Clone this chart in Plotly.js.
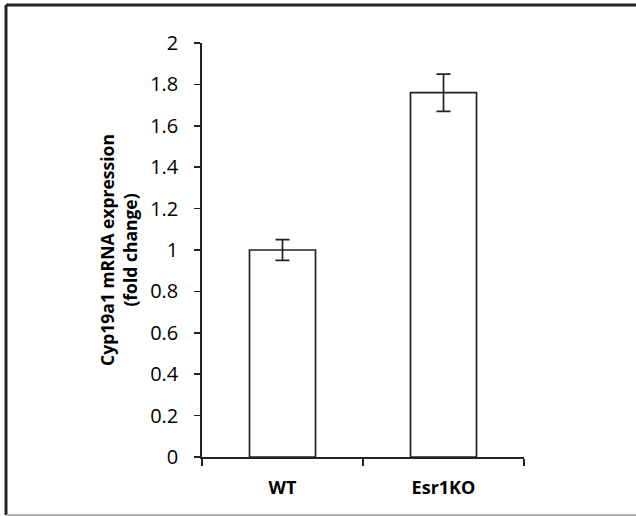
<!DOCTYPE html>
<html>
<head>
<meta charset="utf-8">
<script src="https://cdn.plot.ly/plotly-3.0.1.min.js"></script>
<style>
html,body{margin:0;padding:0;background:#fff;}
#chart{width:636px;height:516px;}
</style>
</head>
<body>
<div id="chart"></div>
<script>
const categories = ["WT", "Esr1KO"];
const foldChange = [1.0, 1.76];
const errorValues = [0.05, 0.09];
const yTickValues = [0, 0.2, 0.4, 0.6, 0.8, 1, 1.2, 1.4, 1.6, 1.8, 2];
const yTickLabels = ["0", "0.2", "0.4", "0.6", "0.8", "1", "1.2", "1.4", "1.6", "1.8", "2"];

const ink = "#222";
const trace = {
  type: "bar",
  x: categories,
  y: foldChange,
  width: 0.41,
  marker: {color: "#ffffff", line: {color: ink, width: 1.7}},
  error_y: {type: "data", array: errorValues, visible: true, color: ink, thickness: 1.7, width: 7}
};

const layout = {
  width: 636,
  height: 516,
  margin: {l: 202, r: 112, t: 43, b: 59},
  paper_bgcolor: "#fff",
  plot_bgcolor: "#fff",
  showlegend: false,
  font: {family: "Open Sans, sans-serif", color: "#000", size: 18},
  xaxis: {
    type: "category",
    range: [-0.5, 1.5],
    showline: true,
    linecolor: ink,
    linewidth: 1.7,
    ticks: "outside",
    tickson: "boundaries",
    ticklen: 7,
    tickwidth: 1.7,
    tickcolor: ink,
    showgrid: false,
    zeroline: false,
    tickfont: {family: "Open Sans, sans-serif", size: 18, weight: "bold", color: "#000"},
    ticklabelstandoff: 14
  },
  yaxis: {
    range: [0, 2],
    tickvals: yTickValues,
    ticktext: yTickLabels,
    showline: true,
    linecolor: ink,
    linewidth: 1.7,
    ticks: "outside",
    ticklen: 6,
    tickwidth: 1.7,
    tickcolor: ink,
    showgrid: false,
    zeroline: false,
    tickfont: {family: "Open Sans, sans-serif", size: 20, color: "#000"},
    ticklabelstandoff: 12,
    title: {
      text: "Cyp19a1 mRNA expression<br>(fold change)",
      font: {family: "Open Sans, sans-serif", size: 17.5, weight: "bold", color: "#000"},
      standoff: 8
    }
  },
  shapes: [
    {type: "line", xref: "paper", yref: "paper", x0: -0.6087, x1: -0.6087, y0: 1.0918, y1: -0.1401, line: {color: ink, width: 3}},
    {type: "line", xref: "paper", yref: "paper", x0: -0.6087, x1: 1.35, y0: 1.0918, y1: 1.0918, line: {color: ink, width: 3}},
    {type: "line", xref: "paper", yref: "paper", x0: -0.6087, x1: 1.35, y0: -0.1401, y1: -0.1401, line: {color: "#999", width: 1.5}}
  ]
};

Plotly.newPlot("chart", [trace], layout, {displayModeBar: false, staticPlot: true});
</script>
</body>
</html>
